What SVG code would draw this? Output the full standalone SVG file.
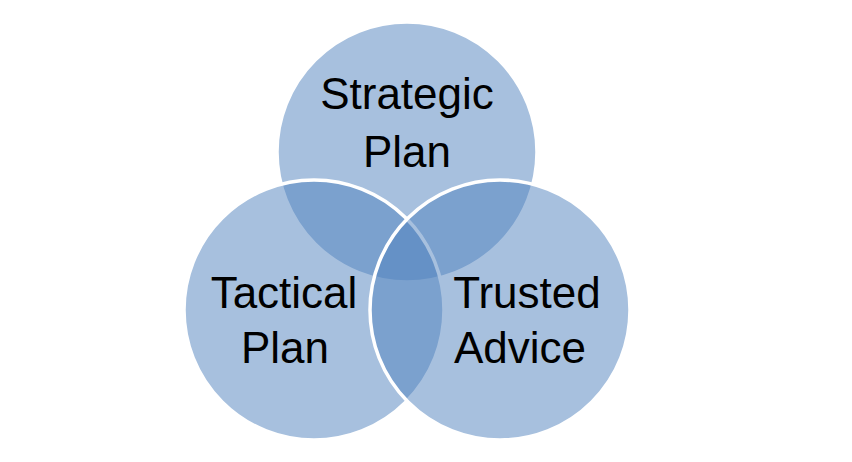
<svg xmlns="http://www.w3.org/2000/svg" width="852" height="462" viewBox="0 0 852 462">
<style>
.c{fill:#4f81bd;fill-opacity:0.5;stroke:#ffffff;stroke-width:3.5}
.t{font-family:"Liberation Sans",Arial,sans-serif;font-size:44px;fill:#000;text-anchor:middle}
</style>
<rect width="852" height="462" fill="#ffffff"/>
<g id="strategic">
<circle class="c" cx="407" cy="152" r="130"/>
</g>
<g id="tactical">
<circle class="c" cx="314" cy="310" r="130"/>
</g>
<g id="trusted">
<circle class="c" cx="500" cy="310" r="130"/>
</g>
<g id="labels">
<text class="t" x="407" y="109">Strategic</text>
<text class="t" x="407" y="167">Plan</text>
<text class="t" x="284" y="308">Tactical</text>
<text class="t" x="285" y="363">Plan</text>
<text class="t" x="527" y="308">Trusted</text>
<text class="t" x="520" y="363">Advice</text>
</g>
</svg>
